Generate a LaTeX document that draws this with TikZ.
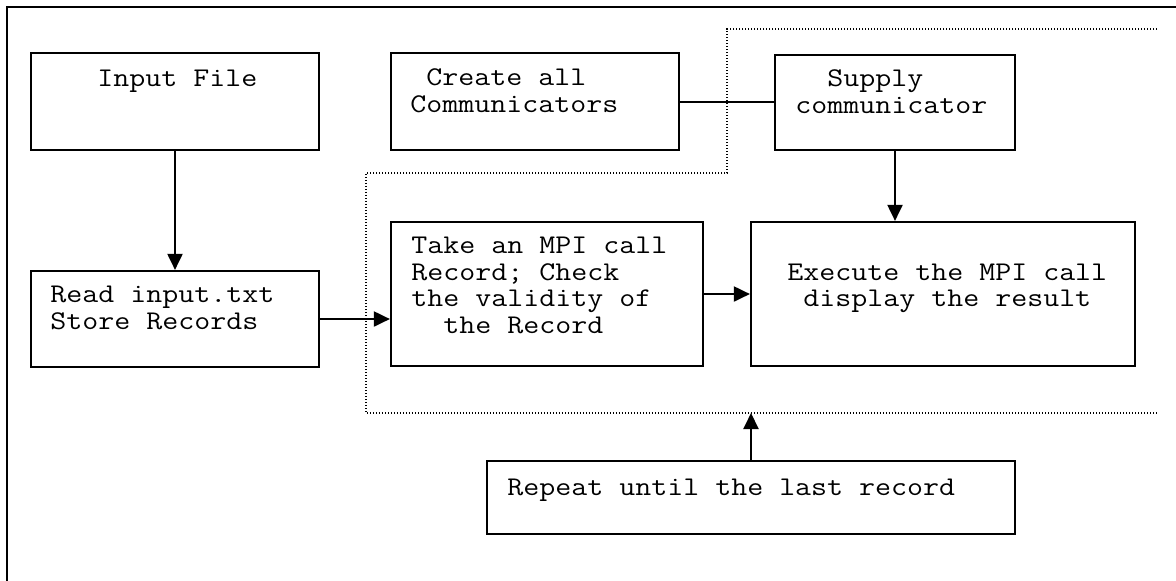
\documentclass[tikz,border=0pt]{standalone}
\usepackage{fontspec}
\setmonofont[FakeStretch=1.15]{Latin Modern Mono}
\usetikzlibrary{arrows.meta,fit}
\begin{document}
\begin{tikzpicture}[x=0.5pt,y=-0.5pt,
  box/.style={draw,line width=1.1pt,inner sep=0pt},
  txt/.style={font=\ttfamily\fontsize{13.5}{13.25}\selectfont,align=left,inner sep=0pt,anchor=base west},
  flow/.style={line width=1pt,-{Triangle[length=8pt,width=7.5pt]}},
  loop/.style={line width=0.7pt,dash pattern=on 0.6pt off 0.9pt}]
\useasboundingbox (0,0) rectangle (1176,580);
\draw[line width=1.4pt] (7,585) -- (7,7) -- (1185,7);
\draw[loop] (1157,29) -- (727,29) -- (727,173) -- (366,173) -- (366,413) coordinate (loopSW) -- (1157,413);
\node[box,fit={(31,53) (319,150)}] (inp) {};
\node[box,fit={(31,271) (319,367)}] (rd) {};
\node[box,fit={(391,53) (679,150)}] (crt) {};
\node[box,fit={(775,55) (1015,150)}] (sup) {};
\node[box,fit={(391,222) (703,366)}] (take) {};
\node[box,fit={(751,222) (1135,366)}] (exe) {};
\node[box,fit={(487,461) (1015,534)}] (rep) {};
\node[txt] (inpT) at (97,86.5) {Input File};
\node[txt] (rdT) at (50,329) {Read input.txt\\Store Records};
\node[txt] (crtT) at (410,112) {~Create all\\Communicators};
\node[txt] (supT) at (795,113) {~~Supply\\communicator};
\node[txt] (takeT) at (411,333) {Take an MPI call\\Record; Check\\the validity of\\~~the Record};
\node[txt] (exeT) at (787,306.7) {Execute the MPI call\\~display the result};
\node[txt] (repT) at (507,495) {Repeat until the last record};
\draw[flow] (inp) -- (rd);
\draw[line width=1pt] (crt.east) -- (crt.east -| sup.west);
\draw[flow] (sup.south) -- (sup.south |- exe.north);
\draw[flow] (rd.east) -- (rd.east -| take.west);
\draw[flow] (take) -- (exe);
\draw[flow] (rep.north) -- (rep.north |- loopSW);
\end{tikzpicture}
\end{document}
